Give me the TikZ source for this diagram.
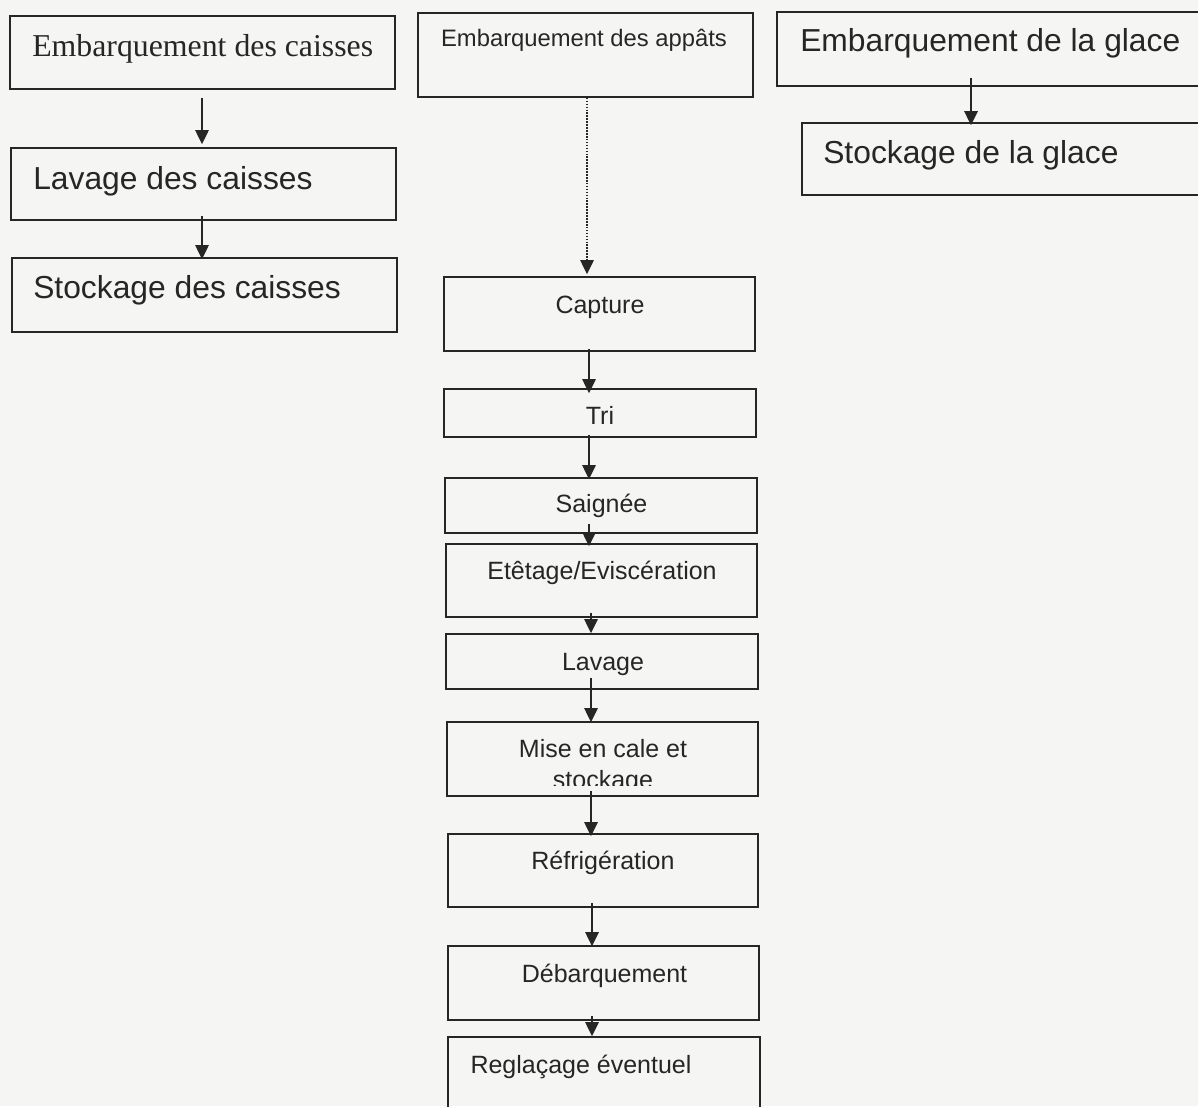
\documentclass[tikz,border=0pt]{standalone}
\usepackage{fontspec}
\setmainfont{Liberation Sans}
\newfontfamily\serifface{Liberation Serif}
\usetikzlibrary{arrows.meta,fit,calc}
\definecolor{paper}{RGB}{245,246,244}
\definecolor{ink}{RGB}{38,38,38}
\tikzset{
  stepbox/.style={draw=ink, line width=1.2pt, inner sep=0pt, rectangle},
  bigtxt/.style={font=\fontsize{23.85}{28}\selectfont, text=ink, inner sep=0pt},
  smalltxt/.style={font=\fontsize{18.75}{22.5}\selectfont, text=ink, inner sep=0pt},
  baittxt/.style={font=\fontsize{17.85}{21.5}\selectfont, text=ink, inner sep=0pt},
  flow/.style={draw=ink, line width=1.2pt, -{Triangle[length=10.5pt,width=10pt]}},
  dotflow/.style={flow, dash pattern=on 1.2pt off 1pt},
}
\begin{document}
\begin{tikzpicture}[x=0.75pt,y=-0.75pt]
  % page
  \useasboundingbox (0,0) rectangle (1198,1106);
  \fill[paper] (0,0) rectangle (1198,1106);
  \clip (0,0) rectangle (1198,1106);

  % column guides for the arrows
  \coordinate (xcA) at (202,0);
  \coordinate (xcD) at (587,0);
  \coordinate (xc1) at (589,0);
  \coordinate (xc2) at (591,0);
  \coordinate (xc3) at (592,0);
  \coordinate (xcE) at (971,0);

  % ---- crates ----
  \node[stepbox, fit={(10,16) (395,89)}]   (embcaisses) {};
  \node[stepbox, fit={(11,148) (396,220)}] (lavcaisses) {};
  \node[stepbox, fit={(12,258) (397,332)}] (stocaisses) {};
  \node[bigtxt, anchor=base west, font=\serifface\fontsize{23.85}{28}\selectfont] (tEmbC) at (32,57) {Embarquement des caisses};
  \node[bigtxt, anchor=base west] (tLavC) at (33,189) {Lavage des caisses};
  \node[bigtxt, anchor=base west] (tStoC) at (33,298) {Stockage des caisses};

  % ---- bait ----
  \node[stepbox, fit={(418,13) (753,97)}] (embappats) {};
  \node[baittxt, anchor=base] (tEmbA) at (584,47) {Embarquement des appâts};

  % ---- ice ----
  \node[stepbox, fit={(777,12) (1230,86)}]  (embglace) {};
  \node[stepbox, fit={(802,123) (1230,195)}] (stoglace) {};
  \node[bigtxt, anchor=base west] (tEmbG) at (800,52) {Embarquement de la glace};
  \node[bigtxt, anchor=base west] (tStoG) at (823,163) {Stockage de la glace};

  % ---- main chain ----
  \node[stepbox, fit={(444,277) (755,351)}]  (capture) {};
  \node[stepbox, fit={(444,389) (756,437)}]  (tri) {};
  \node[stepbox, fit={(445,478) (757,533)}]  (saignee) {};
  \node[stepbox, fit={(446,544) (757,617)}]  (etetage) {};
  \node[stepbox, fit={(446,634) (758,689)}]  (lavage) {};
  \node[stepbox, fit={(447,722) (758,796)}]  (cale) {};
  \node[stepbox, fit={(448,834) (758,907)}]  (refrig) {};
  \node[stepbox, fit={(448,946) (759,1020)}] (debarq) {};
  \node[stepbox, fit={(448,1037) (760,1140)}] (reglac) {};

  \node[smalltxt, anchor=base] (tCap) at (600,313) {Capture};
  \node[smalltxt, anchor=base] (tTri) at (600,424) {Tri};
  \node[smalltxt, anchor=base] (tSai) at (601.5,512) {Saignée};
  \node[smalltxt, anchor=base] (tEte) at (602,579) {Etêtage/Eviscération};
  \node[smalltxt, anchor=base] (tLav) at (603,670) {Lavage};
  \node[smalltxt, anchor=base] (tMis) at (603,757) {Mise en cale et};
  \begin{scope}
    \clip (447,760) rectangle (758,785);
    \node[smalltxt, anchor=base] (tSto) at (603,788) {stockage};
  \end{scope}
  \node[smalltxt, anchor=base] (tRef) at (603,869) {Réfrigération};
  \node[smalltxt, anchor=base] (tDeb) at (604.5,982) {Débarquement};
  \node[smalltxt, anchor=base] (tReg) at (581,1073) {Reglaçage éventuel};

  % ---- connectors ----
  \draw[flow] ($(embcaisses.south -| xcA)+(0,8)$) -- ($(lavcaisses.north -| xcA)+(0,-3)$);
  \draw[flow] ($(lavcaisses.south -| xcA)+(0,-5)$) -- ($(stocaisses.north -| xcA)+(0,2)$);
  \draw[flow] ($(embglace.south -| xcE)+(0,-9)$) -- ($(stoglace.north -| xcE)+(0,3)$);
  \draw[dotflow] (embappats.south -| xcD) -- ($(capture.north -| xcD)+(0,-2)$);

  \draw[flow] ($(capture.south -| xc1)+(0,-3)$) -- ($(tri.north -| xc1)+(0,5)$);
  \draw[flow] ($(tri.south -| xc1)+(0,-3)$) -- ($(saignee.north -| xc1)+(0,2)$);
  \draw[flow] ($(saignee.south -| xc1)+(0,-10)$) -- ($(etetage.north -| xc1)+(0,3)$);
  \draw[flow] ($(etetage.south -| xc2)+(0,-5)$) -- ($(lavage.north -| xc2)+(0,0)$);
  \draw[flow] ($(lavage.south -| xc2)+(0,-12)$) -- ($(cale.north -| xc2)+(0,1)$);
  \draw[flow] ($(cale.south -| xc2)+(0,-6)$) -- ($(refrig.north -| xc2)+(0,3)$);
  \draw[flow] ($(refrig.south -| xc3)+(0,-5)$) -- ($(debarq.north -| xc3)+(0,1)$);
  \draw[flow] ($(debarq.south -| xc3)+(0,-5)$) -- (reglac.north -| xc3);
\end{tikzpicture}
\end{document}
